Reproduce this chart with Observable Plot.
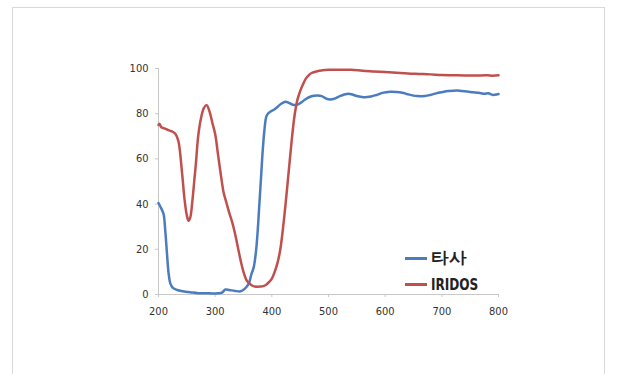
<!DOCTYPE html>
<html>
<head>
<meta charset="utf-8">
<script src="https://cdn.jsdelivr.net/npm/d3@7"></script>
<script src="https://cdn.jsdelivr.net/npm/@observablehq/plot@0.6"></script>
<style>
  html, body { margin: 0; padding: 0; background: #fff; }
  #wrap { position: relative; width: 617px; height: 374px; overflow: hidden; }
  #border { position: absolute; left: 12px; top: 7px; width: 593px; height: 420px; border: 1px solid #d9d9d9; box-sizing: border-box; }
  #chart { position: absolute; left: 0; top: 0; }
  .legend { position: absolute; left: 405px; font-family: "Liberation Sans Narrow", "DejaVu Sans Condensed", "Liberation Sans", sans-serif; font-weight: bold; font-size: 16px; color: #222; display: flex; align-items: center; }
  .legend .sw { width: 22px; height: 3px; margin-right: 4px; }
  .legend .t { display: inline-block; transform-origin: left center; }
</style>
</head>
<body>
<div id="wrap">
  <div id="border"></div>
  <div id="chart"></div>
</div>
<script>
const seriesNames = ["타사", "IRIDOS"];
const seriesColors = ["#4a7cbf", "#c0504d"];

const bluNm = [200,205,209,212,215,218,221,225,233,245,256,270,290,305,312,318,325,335,345,352,359,364,368,372,375,378,381,384,387,390,393,398,405,410,417,424,430,437,445,452,460,470,480,488,495,503,512,520,528,535,542,550,562,575,585,595,609,620,630,640,650,656,670,680,690,700,712,727,735,745,755,765,775,782,790,797,800];
const bluVal = [40.5,38,35.5,28,18,9,4.8,3,2,1.3,1,0.6,0.5,0.5,0.8,2.2,2,1.6,1.4,2.5,4.7,9,12,19,28,40,52,64,73,78.5,80,81,82,83,84.5,85.3,84.8,84,84,85,86.5,87.7,88,87.8,86.8,86.3,86.8,87.8,88.5,88.8,88.5,87.8,87.3,87.6,88.3,89.2,89.7,89.6,89.3,88.6,88,87.8,87.8,88.3,89,89.5,90,90.3,90,89.8,89.5,89.3,88.8,89,88.3,88.5,88.7];

const redNm = [200,202,205,210,215,220,225,230,235,238,240,243,246,250,253,256,260,263,266,270,275,280,285,290,295,300,305,310,315,320,325,330,335,340,345,350,355,360,365,370,380,385,390,395,400,405,410,415,420,425,430,435,440,445,450,455,460,465,470,480,490,500,520,540,560,580,600,620,640,660,680,700,720,740,760,780,790,800];
const redVal = [75,75.5,74,73.5,73,72.5,72,71,68,63,58,50,42,35,32.6,34,42,50,58,70,78,82.5,83.8,81,76,71,62,53,45,40.5,36,32,27,21,15,10,6.5,5,4,3.5,3.5,3.7,4.3,5.5,7,10,14,20,30,42,55,68,79,86,90,93,95.5,97,98,98.8,99.2,99.4,99.5,99.4,99,98.7,98.4,98.1,97.8,97.6,97.4,97.1,97,96.9,96.9,97,96.8,97];

const xTicks = [200,300,400,500,600,700,800];
const yTicks = [0,20,40,60,80,100];

const data = [
  ...bluNm.map((x, i) => ({x, y: bluVal[i], s: seriesNames[0]})),
  ...redNm.map((x, i) => ({x, y: redVal[i], s: seriesNames[1]}))
];

const tickFont = "\"Liberation Sans Narrow\", \"DejaVu Sans Condensed\", \"Liberation Sans\", sans-serif";

const chart = Plot.plot({
  width: 617,
  height: 374,
  marginLeft: 158,
  marginRight: 119,
  marginTop: 68,
  marginBottom: 80,
  style: {fontFamily: tickFont, fontSize: "11px", color: "#333", background: "transparent"},
  x: {domain: [200, 800], ticks: xTicks, label: null},
  y: {domain: [0, 100], ticks: yTicks, label: null},
  color: {domain: seriesNames, range: seriesColors},
  marks: [
    Plot.ruleX([200], {stroke: "#c8c8c8"}),
    Plot.ruleY([0], {stroke: "#c8c8c8"}),
    Plot.axisY({ticks: yTicks, tickSize: 3, tickPadding: 7, stroke: "#c8c8c8", fill: "#333", label: null}),
    Plot.axisX({ticks: xTicks, tickSize: 3, tickPadding: 10, stroke: "#c8c8c8", fill: "#333", label: null}),
    Plot.line(data, {x: "x", y: "y", z: "s", stroke: "s", strokeWidth: 2.5, curve: "catmull-rom"})
  ]
});
document.getElementById("chart").appendChild(chart);

const wrap = document.getElementById("wrap");
const legendTops = [248, 275];
const legendScale = [1.1, 0.84];
seriesNames.forEach((name, i) => {
  const d = document.createElement("div");
  d.className = "legend";
  d.style.top = legendTops[i] + "px";
  const sw = document.createElement("span");
  sw.className = "sw";
  sw.style.background = seriesColors[i];
  const t = document.createElement("span");
  t.className = "t";
  t.style.transform = "scaleX(" + legendScale[i] + ")";
  t.textContent = name;
  d.appendChild(sw);
  d.appendChild(t);
  wrap.appendChild(d);
});
</script>
</body>
</html>
